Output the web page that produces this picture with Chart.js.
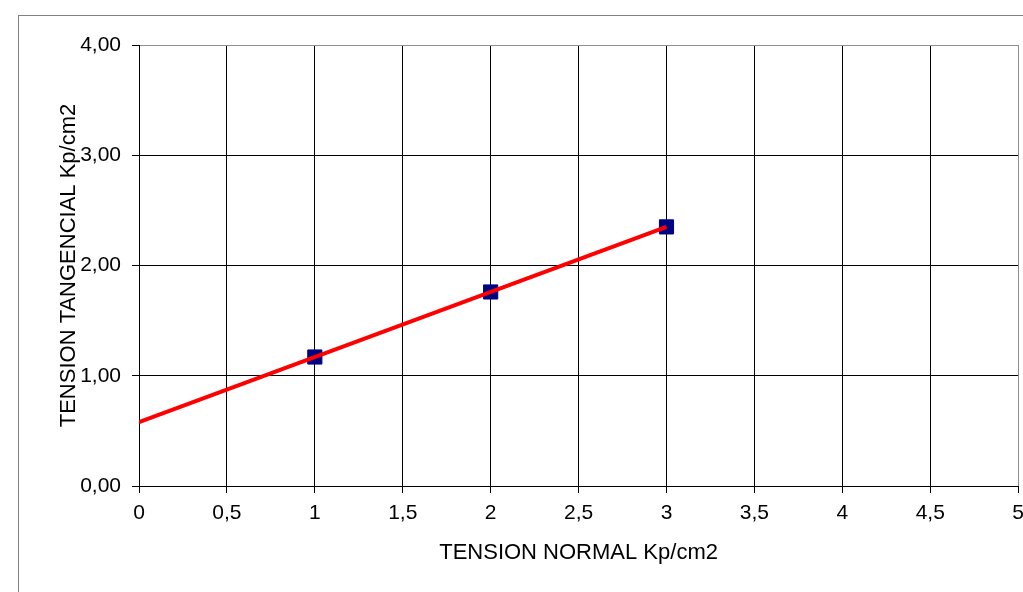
<!DOCTYPE html>
<html>
<head>
<meta charset="utf-8">
<script src="https://cdn.jsdelivr.net/npm/chart.js@4/dist/chart.umd.min.js"></script>
<style>
  html, body { margin: 0; padding: 0; background: #fff; overflow: hidden; }
  #wrap { width: 1023px; height: 592px; position: relative; overflow: hidden; }
  #inner { width: 1032px; height: 592px; position: absolute; left: 0; top: 0; }
</style>
</head>
<body>
<div id="wrap"><div id="inner"><canvas id="c"></canvas></div></div>
<script>
// Measured points
const normalStress = [1, 2, 3];
const shearStress = [1.17, 1.76, 2.35];
// Trend line (fit) end points
const trendX = [0, 3];
const trendY = [0.58, 2.35];
// Tick labels
const xTickLabels = ['0', '0,5', '1', '1,5', '2', '2,5', '3', '3,5', '4', '4,5', '5'];
const yTickLabels = ['0,00', '1,00', '2,00', '3,00', '4,00'];
const xTitle = 'TENSION NORMAL Kp/cm2';
const yTitle = 'TENSION TANGENCIAL Kp/cm2';

const FONT = "'Liberation Sans', Arial, sans-serif";

const framePlugin = {
  id: 'frame',
  beforeDraw(chart) {
    const ctx = chart.ctx;
    ctx.save();
    ctx.strokeStyle = '#808080';
    ctx.lineWidth = 1;
    ctx.strokeRect(18.5, 15.5, 2000, 2000);
    ctx.restore();
  }
};

new Chart(document.getElementById('c'), {
  type: 'scatter',
  data: {
    datasets: [
      {
        label: 'Ajuste',
        type: 'line',
        data: trendX.map((x, i) => ({ x, y: trendY[i] })),
        borderColor: '#ff0000',
        borderWidth: 4,
        pointRadius: 0,
        fill: false,
        order: 1
      },
      {
        label: 'Ensayos',
        data: normalStress.map((x, i) => ({ x, y: shearStress[i] })),
        pointStyle: 'rect',
        pointRadius: 10,
        pointHoverRadius: 10,
        backgroundColor: '#000080',
        borderColor: '#000080',
        borderWidth: 1,
        order: 2
      }
    ]
  },
  options: {
    responsive: true,
    maintainAspectRatio: false,
    animation: false,
    layout: { padding: { left: 0, top: 45, right: 0, bottom: 0 } },
    plugins: {
      legend: { display: false },
      tooltip: { enabled: false }
    },
    scales: {
      x: {
        type: 'linear',
        min: 0, max: 5,
        ticks: {
          stepSize: 0.5,
          color: '#000',
          padding: 8,
          maxRotation: 0,
          autoSkip: false,
          font: { family: FONT, size: 21 },
          callback: (v, i) => xTickLabels[i]
        },
        grid: {
          color: (c) => (c.tick && c.tick.value === 5 ? '#909090' : '#000'),
          lineWidth: 1,
          tickLength: 7,
          tickColor: '#000'
        },
        border: { display: true, color: '#000', width: 1 },
        title: {
          display: true,
          text: xTitle,
          color: '#000',
          font: { family: FONT, size: 22 },
          padding: { top: 0, bottom: 26 }
        },
        afterFit(scale) {
          scale.height = 106;
        }
      },
      y: {
        type: 'linear',
        min: 0, max: 4,
        ticks: {
          stepSize: 1,
          color: '#000',
          padding: 11,
          font: { family: FONT, size: 21 },
          callback: (v, i) => yTickLabels[i]
        },
        grid: {
          color: (c) => (c.tick && c.tick.value === 4 ? '#909090' : '#000'),
          lineWidth: 1,
          tickLength: 7,
          tickColor: '#000'
        },
        border: { display: true, color: '#000', width: 1 },
        title: {
          display: true,
          text: yTitle,
          color: '#000',
          font: { family: FONT, size: 22 },
          padding: { top: 56, bottom: 0 }
        },
        afterFit(scale) { scale.width = 139; }
      }
    }
  },
  plugins: [framePlugin]
});
</script>
</body>
</html>
